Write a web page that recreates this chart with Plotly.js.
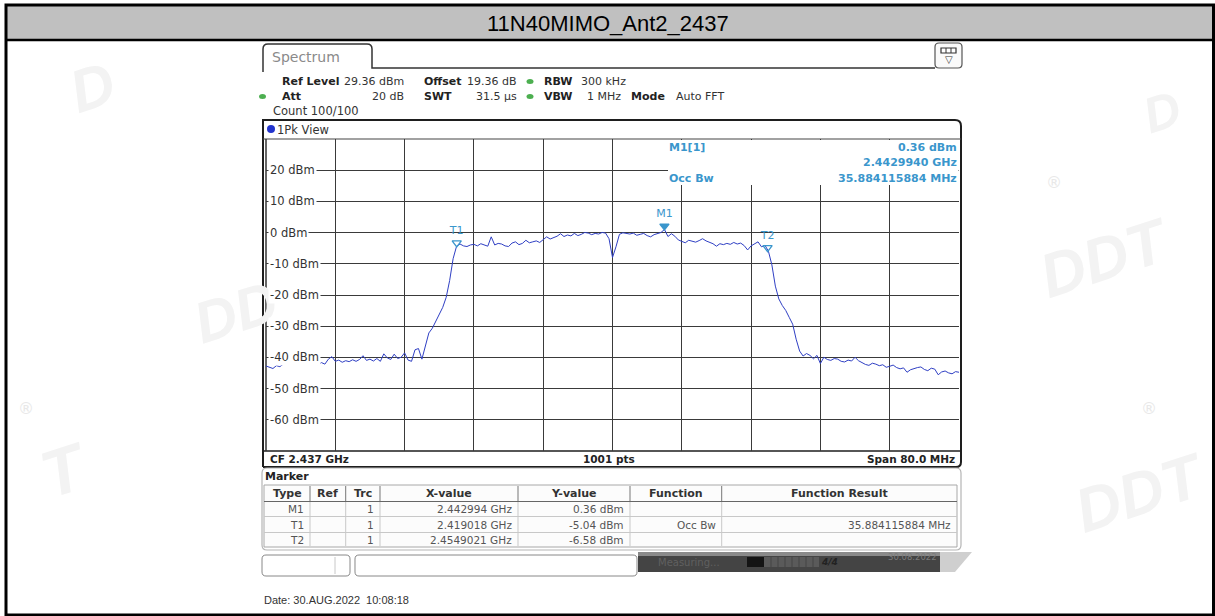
<!DOCTYPE html>
<html>
<head>
<meta charset="utf-8">
<script src="https://cdn.plot.ly/plotly-3.0.1.min.js"></script>
<style>
html,body{margin:0;padding:0;background:#fff;}
#chart{width:1215px;height:616px;}
</style>
</head>
<body>
<div id="chart"></div>
<script>
// ---------------- DATA ----------------
const chartTitle = '11N40MIMO_Ant2_2437';
const centerFreqGHz = 2.437;
const spanMHz = 80.0;
const freqStartGHz = 2.397;
const freqStepGHz = 0.0004;
const refLevelDbm = 29.36;
const yRangeDb = 100;

// trace level (dBm), one value per 0.4 MHz
const levelsDbm = [
 -43.4,-43.8,-44.2,-43.3,-43.6,-42.8,-42.5,-41.8,-40.3,-41.5,
 -40.0,-41.8,-42.0,-42.9,-42.4,-43.0,-42.3,-42.8,-41.2,-40.4,
 -41.9,-41.5,-42.2,-41.7,-42.0,-41.4,-41.9,-41.3,-40.1,-41.6,
 -41.2,-41.8,-41.0,-41.9,-39.5,-40.8,-41.3,-39.6,-41.0,-40.6,
 -39.2,-41.5,-41.9,-38.2,-37.8,-41.2,-36.5,-32.8,-31.3,-28.9,
 -26.8,-24.6,-21.4,-16.0,-9.0,-5.0,-4.3,-4.9,-5.1,-4.6,
 -4.4,-4.9,-4.2,-4.7,-5.0,-2.0,-4.6,-4.1,-4.3,-4.9,
 -5.1,-4.0,-3.6,-4.5,-4.1,-3.1,-3.9,-3.6,-3.3,-3.8,
 -2.8,-2.0,-2.7,-2.2,-1.8,-1.0,-1.9,-1.4,-1.7,-0.9,
 -1.6,-1.2,-0.6,-0.8,-1.3,-0.9,-1.1,-0.6,-0.8,-2.6,
 -8.6,-5.2,-1.2,-0.7,-0.9,-1.1,-0.8,-1.5,-1.2,-0.9,
 -1.6,-2.0,-1.3,-1.0,-0.6,0.36,-1.9,-1.0,-1.8,-3.0,
 -3.5,-3.9,-3.1,-3.4,-3.7,-3.2,-2.6,-3.3,-3.8,-4.2,
 -5.0,-4.2,-4.5,-4.1,-4.4,-3.8,-4.3,-4.0,-4.8,-6.2,
 -4.9,-4.2,-3.6,-5.2,-4.7,-6.6,-11.0,-17.8,-21.9,-24.0,
 -25.6,-27.8,-30.0,-34.8,-38.6,-40.2,-39.4,-40.0,-41.1,-40.0,
 -42.6,-40.6,-41.3,-41.6,-41.0,-41.2,-41.9,-42.1,-41.5,-41.8,
 -40.6,-41.7,-42.3,-42.9,-43.2,-42.5,-42.8,-43.3,-43.0,-43.8,
 -43.5,-43.1,-43.9,-44.3,-44.0,-45.4,-44.6,-44.2,-43.9,-43.7,
 -44.5,-44.9,-44.1,-44.4,-46.2,-45.3,-45.0,-45.6,-45.9,-45.2,
 -45.4
];

const markerNames = ['M1','T1','T2'];
const markerRef = ['','',''];
const markerTrc = ['1','1','1'];
const markerFreqGHz = [2.442994, 2.419018, 2.4549021];
const markerXText = ['2.442994 GHz','2.419018 GHz','2.4549021 GHz'];
const markerLevelDbm = [0.36, -5.04, -6.58];
const markerYText = ['0.36 dBm','-5.04 dBm','-6.58 dBm'];
const markerFunction = ['','Occ Bw',''];
const markerFunctionResult = ['','35.884115884 MHz',''];

const yGridDbm = [19.36, 9.36, -0.64, -10.64, -20.64, -30.64, -40.64, -50.64, -60.64];
const yGridLabels = ['20 dBm','10 dBm','0 dBm','-10 dBm','-20 dBm','-30 dBm','-40 dBm','-50 dBm','-60 dBm'];
const xGridGHz = [2.405, 2.413, 2.421, 2.429, 2.437, 2.445, 2.453, 2.461, 2.469];

const readoutLines = [['M1[1]','0.36 dBm'],['','2.4429940 GHz'],['Occ Bw','35.884115884 MHz']];
const dateText = 'Date: 30.AUG.2022  10:08:18';

// ---------------- LAYOUT HELPERS ----------------
const W = 1215, H = 616;
const px = x => x / W;
const py = y => 1 - y / H;
const freqs = levelsDbm.map((_, i) => +(freqStartGHz + i * freqStepGHz).toFixed(7));

const shapes = [];
const ann = [];
function rect(x0, y0, x1, y1, o) {
  o = o || {};
  shapes.push({type:'rect', xref:'paper', yref:'paper', x0:px(x0), x1:px(x1), y0:py(y1), y1:py(y0),
    fillcolor:o.fill || 'rgba(0,0,0,0)', line:{color:o.line || 'rgba(0,0,0,0)', width:o.lw === undefined ? 0 : o.lw},
    layer:o.layer || 'below', opacity:o.op === undefined ? 1 : o.op});
}
function line(x0, y0, x1, y1, color, w, layer) {
  shapes.push({type:'line', xref:'paper', yref:'paper', x0:px(x0), x1:px(x1), y0:py(y0), y1:py(y1),
    line:{color:color, width:w}, layer:layer || 'below'});
}
function pathPx(pts, o) {
  let d = '';
  pts.forEach(p => {
    if (p[0] === 'Z') { d += 'Z'; return; }
    d += p[0];
    const c = [];
    for (let i = 1; i < p.length; i += 2) c.push(px(p[i]).toFixed(6) + ',' + py(p[i+1]).toFixed(6));
    d += c.join(' ') + ' ';
  });
  shapes.push({type:'path', xref:'paper', yref:'paper', path:d,
    fillcolor:o.fill || 'rgba(0,0,0,0)', line:{color:o.line || 'rgba(0,0,0,0)', width:o.lw || 0}, layer:o.layer || 'below'});
}
function rrect(x0, y0, x1, y1, r, o) {
  pathPx([['M',x0+r,y0],['L',x1-r,y0],['Q',x1,y0,x1,y0+r],['L',x1,y1-r],['Q',x1,y1,x1-r,y1],
          ['L',x0+r,y1],['Q',x0,y1,x0,y1-r],['L',x0,y0+r],['Q',x0,y0,x0+r,y0],['Z']], o);
}
function text(t, x, y, o) {
  o = o || {};
  ann.push({text:t, x:px(x), y:py(y), xref:'paper', yref:'paper', showarrow:false,
    xanchor:o.anchor || 'left', yanchor:'middle',
    font:{family:o.family || 'DejaVu Sans', size:o.size || 11, color:o.color || '#222',
          weight:o.bold ? 'bold' : 'normal', style:o.italic ? 'italic' : 'normal'},
    bgcolor:o.bg || 'rgba(0,0,0,0)', borderpad:o.pad || 0, textangle:o.angle || 0});
}
const B = '#1e1e1e';
const MK = '#3a96cc';

// --- watermarks (faint) ---
const wm = {family:'Liberation Sans', size:60, color:'#f3f3f3', bold:true, italic:true, angle:-18};
text('D', 60, 88, wm);
text('DD', 185, 312, Object.assign({}, wm, {size:58}));
text('DDT', 1030, 258, Object.assign({}, wm, {size:62}));
text('D', 1135, 112, Object.assign({}, wm, {size:50}));
text('DDT', 1065, 492, Object.assign({}, wm, {size:62}));
text('T', 30, 470, Object.assign({}, wm, {size:66}));
text('®', 17, 408, {family:'DejaVu Sans', size:16, color:'#e8e8e8'});
text('®', 1045, 183, {family:'DejaVu Sans', size:16, color:'#e8e8e8'});
text('®', 1140, 408, {family:'DejaVu Sans', size:16, color:'#e8e8e8'});

// --- outer frame and title bar ---
rect(6, 5.5, 1213, 40, {fill:'#c0c0c0'});
line(6, 40, 1213, 40, '#000', 2.5);
rect(6, 5, 1213.5, 615, {line:'#000', lw:3});
text(chartTitle, 608, 23, {family:'Liberation Sans', size:22, color:'#000', anchor:'center'});

// --- instrument: tab ---
pathPx([['M',263,72],['L',263,49],['Q',263,44,268,44],['L',367,44],['Q',372,44,372,49],['L',372,68],['L',935,68]],
       {line:'#333', lw:1.5});
text('Spectrum', 271, 57, {size:14, color:'#8a8a8a'});
rrect(935, 43, 962, 68, 4, {line:'#555', lw:1.2, fill:'#fafafa'});
rect(941, 48, 956, 53, {line:'#333', lw:1.2, fill:'#fff'});
line(946, 48, 946, 53, '#333', 1); line(951, 48, 951, 53, '#333', 1);
text('▽', 948.5, 60, {size:10, color:'#333', anchor:'center'});

// --- settings block ---
const sY = [81.5, 96.5, 111.5];
text('Ref Level', 281, sY[0], {bold:true, size:11});
text('29.36 dBm', 405, sY[0], {size:11, anchor:'right', color:'#333'});
text('Offset', 423, sY[0], {bold:true, size:11});
text('19.36 dB', 518, sY[0], {size:11, anchor:'right', color:'#333'});
text('RBW', 543, sY[0], {bold:true, size:11});
text('300 kHz', 580, sY[0], {size:11, color:'#333'});
text('Att', 281, sY[1], {bold:true, size:11});
text('20 dB', 405, sY[1], {size:11, anchor:'right', color:'#333'});
text('SWT', 423, sY[1], {bold:true, size:11});
text('31.5 µs', 518, sY[1], {size:11, anchor:'right', color:'#333'});
text('VBW', 543, sY[1], {bold:true, size:11});
text('1 MHz', 622, sY[1], {size:11, anchor:'right', color:'#333'});
text('Mode', 630, sY[1], {bold:true, size:11});
text('Auto FFT', 675, sY[1], {size:11, color:'#333'});
text('Count 100/100', 272, sY[2], {size:11.5, color:'#333'});
[[530, sY[0]], [530, sY[1]], [262.5, sY[1]]].forEach(p => {
  shapes.push({type:'circle', xref:'paper', yref:'paper', x0:px(p[0]-3.5), x1:px(p[0]+3.5), y0:py(p[1]+2.5), y1:py(p[1]-2.5),
    fillcolor:'#4caf50', line:{width:0}, layer:'below'});
});

// --- diagram frame ---
pathPx([['M',263,467],['L',263,120],['L',955,120],['Q',961,120,961,126],['L',961,462],['Q',961,467,956,467],['L',263,467]],
       {line:B, lw:2});
line(263, 139, 961, 139, '#444', 1.2);
line(263, 451, 961, 451, B, 1.5);
line(266, 139, 266, 451, '#333', 1.5);
shapes.push({type:'circle', xref:'paper', yref:'paper', x0:px(267), x1:px(275), y0:py(133), y1:py(125),
  fillcolor:'#2233cc', line:{width:0}, layer:'below'});
text('1Pk View', 276, 129.5, {size:11.5, color:'#333'});
text('CF 2.437 GHz', 269, 459, {bold:true, size:10.5});
text('1001 pts', 609, 459, {bold:true, size:10.5, anchor:'center'});
text('Span 80.0 MHz', 956, 459, {bold:true, size:10.5, anchor:'right'});

// readout box covering grid
rect(668, 140, 958.5, 185, {fill:'#fff', layer:'above'});
text(readoutLines[0][0], 668, 147, {bold:true, size:11, color:MK});
text(readoutLines[0][1], 958, 147, {bold:true, size:11, color:MK, anchor:'right'});
text(readoutLines[1][1], 958, 162.5, {bold:true, size:11, color:MK, anchor:'right'});
text(readoutLines[2][0], 668, 178, {bold:true, size:11, color:MK});
text(readoutLines[2][1], 958, 178, {bold:true, size:11, color:MK, anchor:'right'});

// y grid labels inside plot
yGridDbm.forEach((v, i) => {
  ann.push({text:yGridLabels[i], x:px(268), y:v, xref:'paper', yref:'y', showarrow:false,
    xanchor:'left', yanchor:'middle', bgcolor:'#fff', borderpad:1,
    font:{family:'DejaVu Sans', size:11.5, color:'#333'}});
});

// --- marker table ---
rrect(262, 468, 961, 550, 5, {line:'#b5b5b5', lw:1.2});
text('Marker', 264, 476.5, {bold:true, size:11});
const colB = [264, 310, 345.7, 380, 518, 630, 721.7, 957];
const headers = ['Type','Ref','Trc','X-value','Y-value','Function','Function Result'];
rect(264, 485, 957, 547, {line:'#a8a8a8', lw:1, fill:'#fcfcfc'});
line(264, 501.5, 957, 501.5, '#666', 1.2);
line(264, 516.5, 957, 516.5, '#c8c8c8', 1);
line(264, 532.5, 957, 532.5, '#c8c8c8', 1);
colB.slice(1, -1).forEach(x => {
  line(x, 486, x, 501, '#777', 1);
  line(x, 502, x, 546, '#c8c8c8', 1);
});
headers.forEach((h, i) => text(h, (colB[i] + colB[i+1]) / 2, 493.5, {bold:true, size:11, anchor:'center', color:'#333'}));
const rowY = [509, 524.5, 540];
markerNames.forEach((n, r) => {
  const cells = [n, markerRef[r], markerTrc[r], markerXText[r], markerYText[r], markerFunction[r], markerFunctionResult[r]];
  cells.forEach((c, i) => {
    if (c) text(c, colB[i+1] - 5, rowY[r], {size:10.5, anchor:'right', color:'#555'});
  });
});

// --- status bar ---
rrect(262, 555, 350, 576, 4, {line:'#888', lw:1});
line(335, 557, 335, 574, '#c8c8c8', 1);
rrect(355, 555, 637, 576, 4, {line:'#888', lw:1});
rect(638, 552, 940, 572, {fill:'#444444'});
rect(638, 552, 940, 556, {fill:'#8a8a8a'});
pathPx([['M',940,552],['L',972,552],['L',955,572],['L',940,572],['Z']], {fill:'#cfcfcf'});
text('Measuring...', 657, 562, {size:10, color:'#606060'});
rect(747, 557, 764, 567, {fill:'#141414'});
rect(764, 557, 819, 567, {fill:'#5a5a5a'});
[771, 778, 785, 792, 799, 806, 813].forEach(x => line(x, 557, x, 567, '#444', 1));
text('4/4', 829, 562, {bold:true, italic:true, size:9, color:'#222', anchor:'center'});
text('30.08.2022', 912, 556.5, {size:8.5, color:'#7a7a7a', anchor:'center'});

// --- date ---
text(dateText, 263, 600, {family:'Liberation Sans', size:11, color:'#333'});

// ---------------- TRACES ----------------
const traces = [
  {type:'scatter', mode:'lines', x:freqs, y:levelsDbm, line:{color:'#2f3fc4', width:1}, hoverinfo:'skip', showlegend:false},
  {type:'scatter', mode:'markers+text', x:markerFreqGHz, y:markerLevelDbm.map(v => v + 1.1), text:markerNames,
   textposition:'top center', textfont:{family:'DejaVu Sans', size:11, color:MK},
   marker:{symbol:['triangle-down','triangle-down-open','triangle-down-open'], size:8, color:MK, line:{color:MK, width:1.3}},
   showlegend:false, hoverinfo:'skip', cliponaxis:false}
];

const layout = {
  width:W, height:H, margin:{l:0, r:0, t:0, b:0},
  paper_bgcolor:'#fff', plot_bgcolor:'rgba(0,0,0,0)', showlegend:false,
  xaxis:{domain:[px(266), px(959)], range:[freqStartGHz, freqStartGHz + spanMHz / 1000],
         tickvals:xGridGHz, showticklabels:false, ticks:'', showgrid:true, gridcolor:'#3a3a3a', gridwidth:1,
         zeroline:false, showline:false, fixedrange:true},
  yaxis:{domain:[py(451), py(139)], range:[refLevelDbm - yRangeDb, refLevelDbm],
         tickvals:yGridDbm, showticklabels:false, ticks:'', showgrid:true, gridcolor:'#3a3a3a', gridwidth:1,
         zeroline:false, showline:false, fixedrange:true},
  shapes:shapes, annotations:ann
};
Plotly.newPlot('chart', traces, layout, {displayModeBar:false, staticPlot:true});
</script>
</body>
</html>
